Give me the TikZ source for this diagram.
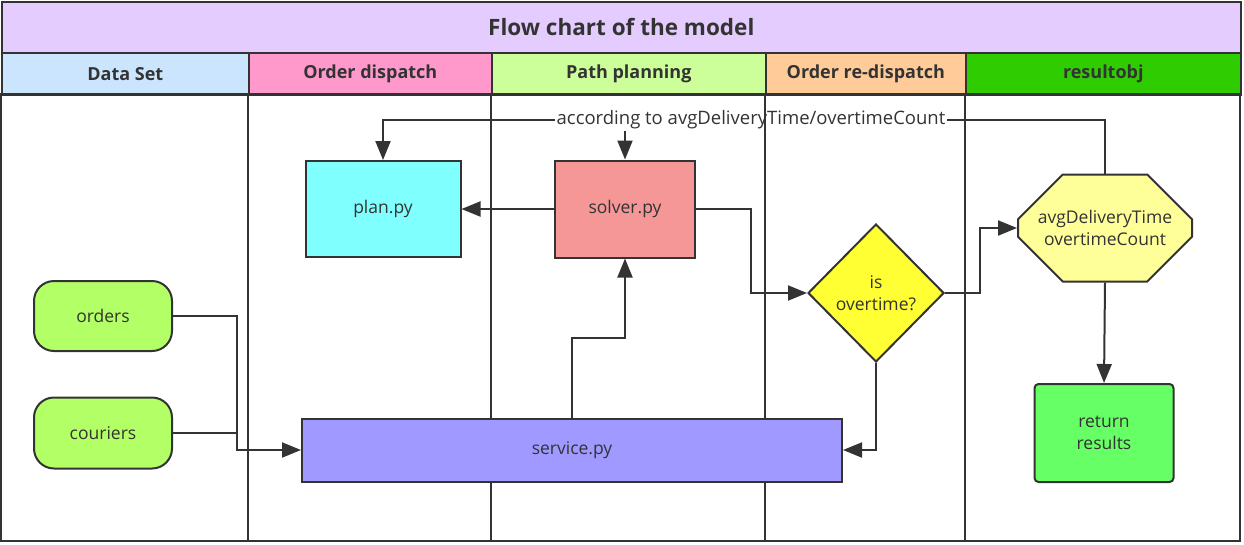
\documentclass[tikz,border=0pt]{standalone}
\usepackage{fontspec}
\setmainfont{Open Sans}
\usetikzlibrary{shapes.geometric,shapes.misc,arrows.meta}
\definecolor{linec}{HTML}{333333}
\definecolor{titlec}{HTML}{E5CCFF}
\definecolor{datac}{HTML}{CCE5FF}
\definecolor{dispc}{HTML}{FF99CC}
\definecolor{pathc}{HTML}{CCFF99}
\definecolor{redispc}{HTML}{FFCC99}
\definecolor{resc}{HTML}{2ECC00}
\definecolor{inputc}{HTML}{B3FF66}
\definecolor{planc}{HTML}{80FFFF}
\definecolor{solverc}{HTML}{F59797}
\definecolor{servicec}{HTML}{A099FF}
\definecolor{checkc}{HTML}{FFFF33}
\definecolor{metricc}{HTML}{FFFF99}
\definecolor{returnc}{HTML}{66FF66}
\begin{document}
\begin{tikzpicture}[x=1pt,y=-1pt,line width=2pt,>={Triangle[length=19pt,width=15pt]},
	lane/.style={draw=linec,line width=1.6pt},
	head/.style={draw=linec,line width=1.6pt,text=linec,inner sep=0pt,anchor=north west,
		minimum height=42pt,font=\fontsize{18}{21}\selectfont\bfseries},
	box/.style={draw=linec,line width=2pt,text=linec,inner sep=0pt,align=center,
		font=\fontsize{17.5}{22}\selectfont},
	conn/.style={draw=linec,line width=2pt}]
	\useasboundingbox (0,0) rectangle (1244,544);
	% title and lane headers
	\node[head,fill=titlec,minimum width=1239pt,minimum height=51pt,font=\fontsize{22.5}{26}\selectfont\bfseries] (title) at (1,1) {Flow chart of the model};
	\node[head,fill=datac,minimum width=247pt] (hdata) at (1,52) {Data Set};
	\node[head,fill=dispc,minimum width=243pt] (hdisp) at (248,52) {Order dispatch};
	\node[head,fill=pathc,minimum width=274pt] (hpath) at (491,52) {Path planning};
	\node[head,fill=redispc,minimum width=200pt] (hredisp) at (765,52) {Order re-dispatch};
	\node[head,fill=resc,minimum width=275pt] (hres) at (965,52) {resultobj};
	\draw[lane] (1,94) rectangle (1240,541);
	\foreach \x in {248,491,765,965}
	\draw[lane] (\x,94)--(\x,541);
	% nodes
	\node[box,fill=inputc,rounded corners=20pt,minimum width=138pt,minimum height=70pt] (orders) at (103,316) {orders};
	\node[box,fill=inputc,rounded corners=20pt,minimum width=138pt,minimum height=71pt] (couriers) at (103,433) {couriers};
	\node[box,fill=planc,minimum width=155pt,minimum height=96pt] (plan) at (383,209) {plan.py};
	\node[box,fill=solverc,minimum width=140pt,minimum height=97pt] (solver) at (625,209) {solver.py};
	\node[box,fill=servicec,minimum width=540pt,minimum height=63pt] (service) at (572,450) {service.py};
	\node[box,fill=checkc,diamond,aspect=1,minimum width=136pt,minimum height=138pt] (check) at (876,293) {is\\overtime?};
	\node[box,fill=metricc,chamfered rectangle,chamfered rectangle xsep=30pt,chamfered rectangle ysep=27pt,minimum width=174pt,minimum height=107pt] (metric) at (1105,228) {avgDeliveryTime\\overtimeCount};
	\node[box,fill=returnc,rounded corners=4pt,minimum width=139pt,minimum height=98pt] (result) at (1104,433) {return\\results};
	\node[text=linec,inner sep=1pt,font=\fontsize{18.5}{22}\selectfont] (fb) at (751,120) {according to avgDeliveryTime/overtimeCount};
	% bend points
	\coordinate (jn) at (237,400);
	\coordinate (svup) at (600,338);
	\coordinate (svr) at (751,250);
	\coordinate (ckr) at (980,260);
	% connectors
	\draw[conn,->] (orders.east) -| (jn) |- (service.west);
	\draw[conn] (couriers.east) -| (jn);
	\draw[conn,->] (service.north) |- (svup) -| (solver.south);
	\draw[conn,->] (solver.west) -- (plan.east);
	\draw[conn,->] (solver.east) -| (svr) |- (check.west);
	\draw[conn,->] (check.east) -| (ckr) |- (metric.west);
	\draw[conn,->] (check.south) |- (service.east);
	\draw[conn,->] (metric.south) -- (result.north);
	\draw[conn] (metric.north) |- (fb.east);
	\draw[conn,->] (fb.west) -| (plan.north);
	\draw[conn,->] (fb.south -| solver.north) -- (solver.north);
\end{tikzpicture}
\end{document}
